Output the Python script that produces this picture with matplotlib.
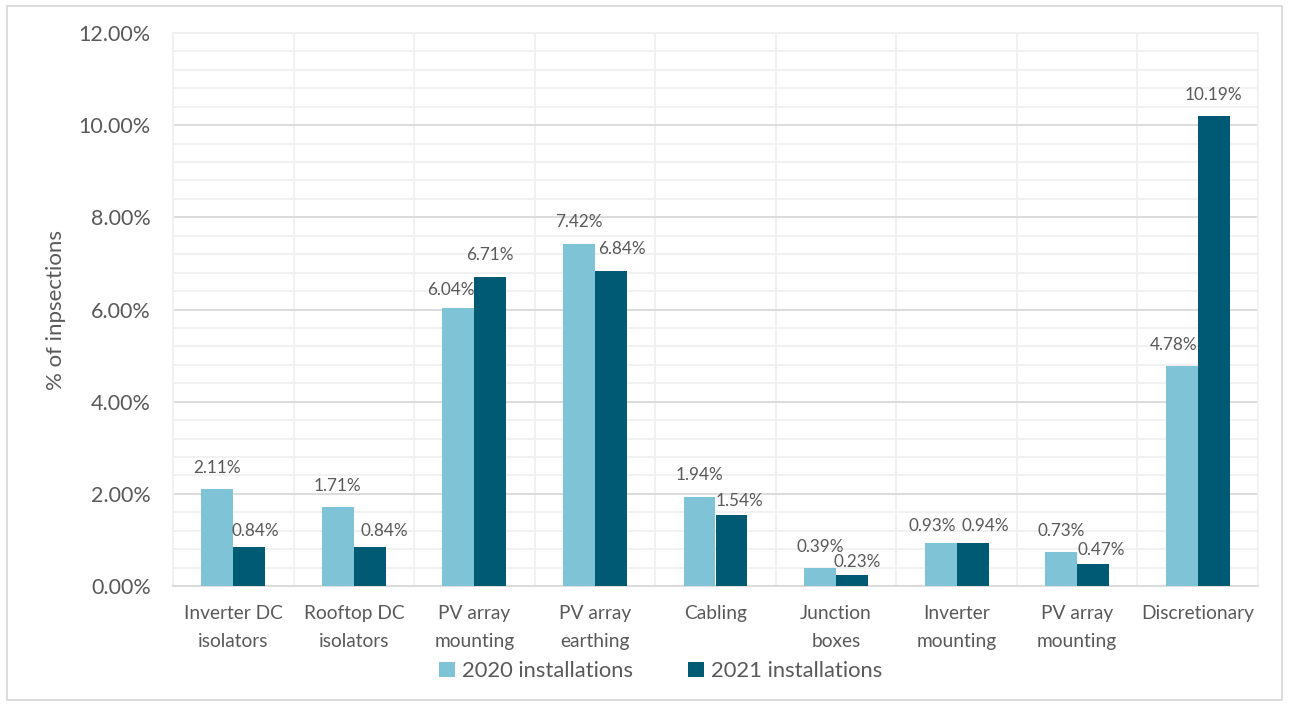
import numpy as np
import matplotlib.pyplot as plt
from matplotlib.patches import Rectangle
from matplotlib.ticker import MultipleLocator, FuncFormatter

categories = ["Inverter DC\nisolators", "Rooftop DC\nisolators", "PV array\nmounting",
              "PV array\nearthing", "Cabling", "Junction\nboxes", "Inverter\nmounting",
              "PV array\nmounting", "Discretionary"]
y2020 = [2.11, 1.71, 6.04, 7.42, 1.94, 0.39, 0.93, 0.73, 4.78]
y2021 = [0.84, 0.84, 6.71, 6.84, 1.54, 0.23, 0.94, 0.47, 10.19]

# label nudges in pixels (dx, height above bar top) as Excel placed them
lab2020 = [(0, 21), (0, 21), (-8, 18), (0, 22), (0, 22), (0, 21), (-8, 17), (0, 21), (-8, 21)]
lab2021 = [(6, 16), (15, 16), (0, 22), (11, 22), (8, 14), (5, 13), (13, 17), (8, 14), (0, 21)]

c2020 = "#7fc3d7"
c2021 = "#005a74"
txt = "#595959"

plt.rcParams['font.family'] = ['Lato', 'DejaVu Sans']

fig = plt.figure(figsize=(12.89, 7.06), dpi=100)
ax = fig.add_axes([173 / 1289, 1 - 586 / 706, (1258 - 173) / 1289, (586 - 33) / 706])

x = np.arange(len(categories))
w = 0.265
b1 = ax.bar(x - w / 2, y2020, w, color=c2020, label="2020 installations", zorder=3)
b2 = ax.bar(x + w / 2, y2021, w, color=c2021, label="2021 installations", zorder=3)

for bars, vals, nudges in ((b1, y2020, lab2020), (b2, y2021, lab2021)):
    for r, v, (dx, dy) in zip(bars, vals, nudges):
        ax.annotate(f"{v:.2f}%", (r.get_x() + r.get_width() / 2, v), xytext=(dx, dy),
                    textcoords="offset pixels", ha="center", va="center",
                    fontsize=12.3, color=txt, zorder=4)

ax.set_xlim(-0.5, len(categories) - 0.5)
ax.set_ylim(0, 12)
ax.yaxis.set_major_locator(MultipleLocator(2))
ax.yaxis.set_minor_locator(MultipleLocator(0.4))
ax.yaxis.set_major_formatter(FuncFormatter(lambda v, p: f"{v:.2f}%"))
ax.set_xticks(x)
ax.set_xticklabels(categories, fontsize=13.8, color=txt, linespacing=1.75)
ax.set_xticks(np.arange(-0.5, len(categories), 0.5), minor=True)
ax.tick_params(axis="y", which="both", length=0, labelsize=15.5, labelcolor=txt, pad=16)
ax.tick_params(axis="x", which="both", length=0, pad=14)

ax.grid(axis="y", which="major", color="#d9d9d9", lw=1.3, zorder=0)
ax.grid(axis="y", which="minor", color="#f0f0f0", lw=1.3, zorder=0)
ax.grid(axis="x", which="minor", color="#f0f0f0", lw=1.3, zorder=0)
for s in ("left", "top", "right"):
    ax.spines[s].set_color("#f0f0f0")
    ax.spines[s].set_linewidth(1.3)
ax.spines["bottom"].set_color("#d9d9d9")
ax.spines["bottom"].set_linewidth(1.3)

ax.set_ylabel("% of inpsections", fontsize=16, color=txt)
ax.yaxis.set_label_coords((66 - 173) / 1085, 0.5)

fig.legend(handles=[b1, b2], loc="center", bbox_to_anchor=(661 / 1289, 1 - 671 / 706),
           ncol=2, frameon=False, fontsize=15.8, labelcolor=txt, handlelength=0.7,
           handleheight=0.7, handletextpad=0.35, columnspacing=2.5)

fig.patches.append(Rectangle((7 / 1289, 6 / 706), 1275 / 1289, 694 / 706,
                             transform=fig.transFigure, fill=False,
                             edgecolor="#d9d9d9", lw=1.3))

plt.savefig("out.png", dpi=100)
